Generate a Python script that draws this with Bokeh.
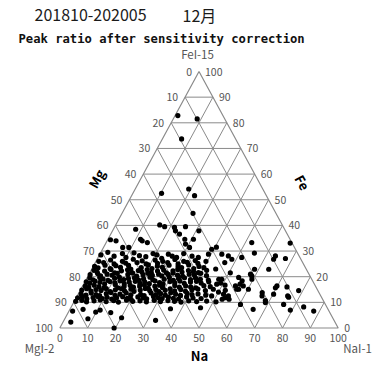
from bokeh.plotting import figure
from bokeh.models import Range1d, Label
from bokeh.embed import file_html
from bokeh.resources import INLINE
from bokeh.core.properties import value

# ---------------------------------------------------------------------------
# Particle compositions (peak ratio %, after sensitivity correction).
# Each particle is given by its Na and Fe share; Mg is the remainder.
# ---------------------------------------------------------------------------

# scattered particles outside the main cluster
na_scatter = [
    1.0, 8.6, 6.9, 10.3, 19.2, 22.6, 25.5, 15.8, 17.9, 21.6,
    25.4, 8.0, 22.6, 24.7, 31.0, 30.7, 27.6, 28.8, 30.9, 1.0,
    3.2, 6.9, 12.6, 14.8, 11.7, 9.1, 39.2, 40.5, 52.3, 66.2,
    39.0, 43.8, 46.5, 48.4, 51.6, 55.3, 63.4, 63.4, 67.5, 63.6,
    58.5, 54.4, 58.0, 59.5, 56.3, 54.9, 56.7, 52.1, 65.8, 69.6,
    69.8, 70.2, 73.6, 75.6, 78.5, 76.2, 66.4, 68.5, 68.9, 75.8,
    79.3, 83.5, 87.9, 65.8, 60.3, 46.6, 52.7, 55.2, 47.6, 48.7,
    47.8, 47.6, 48.3, 52.2, 54.3, 56.0, 56.2, 57.7, 60.2, 58.8,
    53.5, 46.5, 44.5, 50.5, 49.0, 51.0, 50.0, 47.5, 51.0, 2.8,
    1.3, 4.7, 8.3, 9.8, 11.0, 15.3, 20.2, 19.5, 32.9, 36.0,
]
fe_scatter = [
    82.8, 81.5, 73.7, 52.5, 54.2, 51.6, 44.7, 40.2, 39.5, 39.2,
    39.5, 38.5, 37.9, 36.6, 37.9, 34.6, 34.6, 32.7, 31.4, 34.4,
    34.0, 31.4, 34.0, 33.3, 34.6, 31.4, 30.7, 31.5, 33.3, 33.1,
    28.8, 28.8, 28.1, 26.8, 27.5, 29.2, 26.8, 28.1, 27.1, 22.9,
    22.9, 19.7, 21.0, 19.0, 18.4, 16.4, 15.1, 14.7, 13.8, 15.7,
    16.4, 13.2, 16.0, 12.5, 14.6, 12.0, 12.5, 10.7, 9.9, 9.2,
    7.0, 8.2, 6.6, 7.3, 9.2, 7.9, 11.2, 11.2, 19.0, 19.0,
    17.1, 15.1, 12.5, 13.2, 12.5, 15.1, 17.1, 16.4, 15.1, 20.3,
    11.8, 25.5, 23.0, 21.5, 17.5, 16.7, 14.0, 10.5, 10.2, 2.3,
    6.6, 7.3, 3.6, 6.2, 7.0, 6.0, 4.0, 0.0, 3.0, 7.5,
]

# main cluster, listed band by band from Fe ~28 % down to Fe ~10 %
na_cluster = [
    0.5, 2.5, 5.5, 8, 10, 12, 14.5, 17, 19, 20.6, 23, 24.6, 26.4, 28.2, 30, 33.5, 36,
    1, 3, 5, 7, 9.5, 11, 13, 15, 16.5, 18.5, 21, 22.5, 24, 26, 28, 30, 31.5, 33, 35.5, 37, 39.5,
    0.5, 2, 4, 6.5, 8, 10, 12.5, 14, 17.5, 19.5, 21.5, 23, 25, 27, 30.5, 32, 34, 36.5, 38, 40,
    1, 2.5, 5, 7, 9, 11, 13, 15, 17, 18.5, 20, 22, 24, 26, 27.5, 29.5, 31, 33, 35, 37, 39, 41.5,
    0.5, 3, 4.5, 6.5, 8.5, 10, 14, 15.5, 17.5, 19.5, 21, 23, 25, 26.5, 28.5, 30, 32, 34, 36, 38, 40, 42.5,
    1, 2.5, 4.5, 6, 8, 10, 11.5, 13.5, 15, 17, 19, 20.5, 22.5, 24, 28, 29.5, 31.5, 33, 35, 37.5, 39, 41, 44,
    0.5, 2, 3.5, 5.5, 7.5, 9, 11, 12.5, 14.5, 16, 18, 20, 21.5, 23.5, 25, 27, 28.5, 30.5, 32.5, 34, 36, 38, 40, 42, 44.5,
    1, 2.5, 4, 6, 8, 11.5, 13, 15, 17, 18.5, 20.5, 22, 24, 26, 27.5, 29, 33, 35, 37, 39, 41, 43.5, 46,
    0.5, 2, 4, 5.5, 7.5, 9, 11, 12.5, 14.5, 16, 18, 19.5, 21.5, 23, 25, 27, 28.5, 30.5, 32, 34, 36, 38, 40, 42, 45,
    1, 3, 4.5, 6.5, 8, 10, 11.5, 13.5, 15, 17, 19, 22.5, 24, 26, 28, 29.5, 31.5, 33, 35, 37, 39, 41, 43, 46,
    0.5, 2, 4, 6, 7.5, 9.5, 11, 13, 14.5, 16.5, 18.5, 20, 22, 24, 25.5, 27.5, 29.5, 31, 33, 35, 37, 39.5, 42, 45,
    0.5, 2.5, 4.5, 7, 9, 11.5, 14, 16, 18.5, 21, 23.5, 26, 28.5, 31, 33.5, 36, 38.5, 41, 44,
]
fe_cluster = [
    28.5, 29.5, 28, 29, 27.5, 29.3, 28.2, 27.8, 29, 28.5, 27.2, 28.8, 28, 27.5, 29, 28, 27.5,
    26, 25.5, 26.5, 25, 26, 25.3, 26.8, 25.5, 26.2, 25, 26.5, 25.2, 26, 25.5, 26.7, 25, 26, 25.6, 26.3, 25.2, 26,
    24, 23.5, 24.5, 23.2, 24.3, 23.6, 24.4, 23, 23.5, 24.6, 23.2, 24.1, 23.7, 24.5, 24, 23.5, 24.6, 23.2, 24, 23.5,
    22.5, 21.8, 22.2, 22.8, 21.5, 22.3, 22.7, 21.6, 22.4, 21.9, 22.8, 21.7, 22.2, 22.6, 21.5, 22.3, 22.8, 21.8, 22.4, 22, 21.6, 22.5,
    20.8, 21.2, 20.3, 21, 20.6, 21.3, 20.9, 21.4, 20.2, 20.8, 21.3, 20.5, 21, 20.3, 20.9, 21.4, 20.6, 20.2, 21, 20.7, 21.3, 20.4,
    19.5, 18.8, 19.7, 19.1, 18.6, 19.4, 19.8, 18.9, 19.3, 19.6, 18.7, 19.2, 19.8, 18.8, 19, 19.7, 18.6, 19.3, 19.6, 18.9, 19.5, 19, 18.7,
    18, 17.4, 18.3, 17.8, 17.2, 18.1, 17.6, 18.4, 17.3, 17.9, 18.2, 17.5, 18, 17.3, 18.4, 17.7, 17.2, 18.1, 17.6, 18.3, 17.4, 17.9, 18.2, 17.5, 18,
    16.3, 15.8, 16.7, 16.1, 15.6, 16.9, 15.7, 16.2, 16.6, 15.9, 16.4, 16.8, 15.6, 16.3, 16.7, 15.8, 16.6, 15.9, 16.4, 16, 15.7, 16.5, 16.1,
    14.8, 15.3, 14.4, 15, 14.6, 15.4, 14.2, 14.9, 15.3, 14.5, 15.1, 14.3, 14.8, 15.4, 14.6, 15, 14.2, 14.7, 15.3, 14.5, 15, 14.3, 14.9, 15.2, 14.6,
    13.3, 12.8, 13.6, 13, 12.6, 13.4, 13.8, 12.7, 13.2, 13.7, 12.9, 13.1, 12.6, 13.6, 13, 13.4, 12.8, 13.7, 13.2, 12.7, 13.5, 13, 13.3, 12.8,
    11.8, 12.2, 11.4, 11.9, 12.3, 11.5, 12, 11.3, 11.8, 12.2, 11.6, 11.2, 12.1, 11.7, 11.4, 12.3, 11.8, 11.5, 12, 11.6, 11.3, 12.1, 11.7, 11.5,
    10.4, 10.8, 10.2, 10.6, 11, 10.3, 10.7, 10.1, 10.9, 10.4, 10.6, 10.2, 10.8, 10.3, 10.7, 10.4, 10.1, 10.6, 10.3,
]

ticks = [0, 10, 20, 30, 40, 50, 60, 70, 80, 90, 100]
grid_steps = [10, 20, 30, 40, 50, 60, 70, 80, 90]

title_period = "201810-202005"
title_month = "12月"
subtitle = "Peak ratio after sensitivity correction"
corner_top, corner_left, corner_right = "FeI-15", "MgI-2", "NaI-1"

# ---------------------------------------------------------------------------
# Canvas geometry (pixels) and ternary -> cartesian mapping
# ---------------------------------------------------------------------------
W, H = 385, 371
LEFT_PX, RIGHT_PX = 59.3, 337.7      # base corners of the triangle
BASE_PX, APEX_PX = 327.5, 71.0       # base line and apex (from top)
side = RIGHT_PX - LEFT_PX
tall = BASE_PX - APEX_PX


def tern(na_v, fe_v):
    """Na / Fe percentages -> cartesian (base = 1, height = 1)."""
    return (na_v + fe_v / 2.0) / 100.0, fe_v / 100.0


def dx(px):
    return px / side


def dy(px):
    return px / tall


p = figure(
    width=W, height=H,
    x_range=Range1d(-LEFT_PX / side, (W - LEFT_PX) / side),
    y_range=Range1d(-(H - BASE_PX) / tall, BASE_PX / tall),
    output_backend="svg", toolbar_location=None, min_border=0,
    x_axis_location=None, y_axis_location=None,
)
p.grid.visible = False
p.outline_line_color = None
p.background_fill_color = "white"
p.border_fill_color = "white"

GRID = "#8a8a8a"
TICK = "#555555"
CJK = "Noto Sans CJK JP"

# ---- triangular grid --------------------------------------------------------
xs, ys = [], []
for s in grid_steps:
    for a, b in (((0, s), (100 - s, s)),          # constant Fe
                 ((s, 0), (s, 100 - s)),          # constant Na
                 ((100 - s, 0), (0, 100 - s))):   # constant Mg
        x0, y0 = tern(*a)
        x1, y1 = tern(*b)
        xs.append([x0, x1])
        ys.append([y0, y1])
p.multi_line(xs, ys, line_color=GRID, line_width=1)

corners = [tern(0, 0), tern(100, 0), tern(0, 100), tern(0, 0)]
p.line([c[0] for c in corners], [c[1] for c in corners], line_color=GRID, line_width=1.2)

# ---- particles ----------------------------------------------------------------
na_all = na_scatter + na_cluster
fe_all = fe_scatter + fe_cluster
pts = [tern(a, b) for a, b in zip(na_all, fe_all)]
p.scatter([q[0] for q in pts], [q[1] for q in pts], size=5.2,
          fill_color="black", line_color=None)

# ---- tick labels ---------------------------------------------------------------
def tick_text(xv, yv, txt, align):
    p.text(x=xv, y=yv, text=txt, text_align=align, text_baseline="middle",
           text_font=value(CJK), text_font_size="10.5px", text_color=TICK)

# Mg along the left edge (0 at apex, 100 at the Mg corner)
lx, ly = [], []
for t in ticks:
    x0, y0 = tern(0, 100 - t)
    lx.append(x0 - dx(7))
    ly.append(y0)
tick_text(lx, ly, [str(t) for t in ticks], "right")

# Fe along the right edge (100 at apex, 0 at the Na corner)
rx, ry = [], []
for t in ticks:
    x0, y0 = tern(100 - t, t)
    rx.append(x0 + dx(6))
    ry.append(y0)
tick_text(rx, ry, [str(t) for t in ticks], "left")

# Na along the base
bx, by = [], []
for t in ticks:
    x0, y0 = tern(t, 0)
    bx.append(x0)
    by.append(y0 - dy(10))
tick_text(bx, by, [str(t) for t in ticks], "center")

# ---- corner names and component labels ----------------------------------------
def screen_label(x, y, txt, size, color, align="left", font=CJK, style="normal", angle=0.0):
    p.add_layout(Label(x=x, y=H - y, x_units="screen", y_units="screen", text=txt,
                       text_align=align, text_baseline="middle", text_font=font,
                       text_font_size=size, text_color=color, text_font_style=style,
                       angle=angle))

screen_label(197, 53, corner_top, "11.5px", TICK, "center")
screen_label(39, 347, corner_left, "11.5px", TICK, "center")
screen_label(357, 347, corner_right, "11.5px", TICK, "center")

screen_label(96, 178, "Mg", "13px", "black", "center", style="bold", angle=1.07)
screen_label(302, 182, "Fe", "13px", "black", "center", style="bold", angle=-1.07)
screen_label(199, 355, "Na", "13px", "black", "center", style="bold")

# ---- titles ---------------------------------------------------------------------
screen_label(34, 14, title_period, "16px", "#1a1a1a")
screen_label(182, 14, title_month, "16px", "#1a1a1a")
screen_label(18, 38, subtitle, "12.2px", "#111111", font="DejaVu Sans Mono", style="bold")

open("out.html", "w").write(file_html(p, INLINE))
